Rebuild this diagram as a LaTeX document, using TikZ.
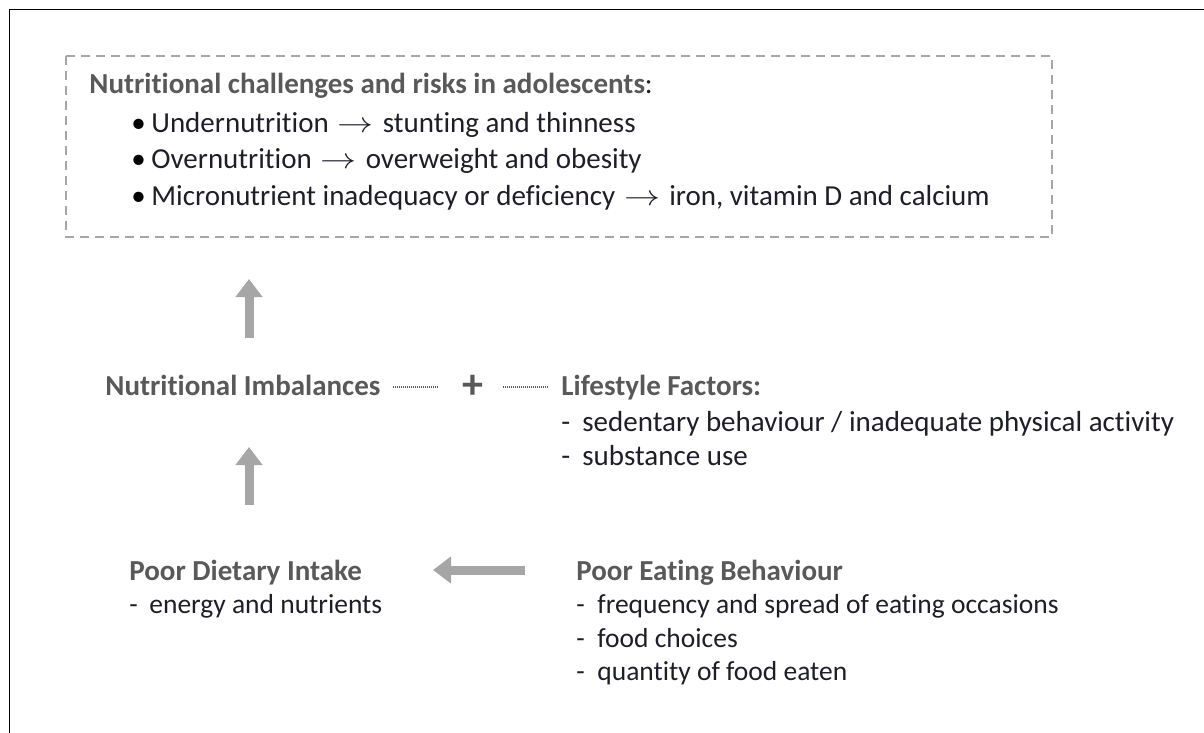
\documentclass[tikz,border=0pt]{standalone}
\usepackage{fontspec}
\setmainfont{Carlito}[Ligatures=NoCommon]
\usepackage{graphicx}
\usetikzlibrary{arrows.meta,calc}
\definecolor{headc}{HTML}{595959}
\definecolor{bodyc}{HTML}{1E1E28}
\definecolor{arrc}{HTML}{A6A6A6}
\definecolor{boxc}{HTML}{A6A6A6}
\newcommand{\ar}{\hspace{4.5pt}\scalebox{1.25}[1]{$\rightarrow$}\hspace{4.5pt}}
\tikzset{
  txt/.style={anchor=base west, inner sep=0pt, text=bodyc, font=\fontsize{14.5}{17}\selectfont},
  txs/.style={anchor=base west, inner sep=0pt, text=bodyc, font=\fontsize{13.75}{17}\selectfont},
  hd/.style={txt, text=headc, font=\fontsize{14.5}{17}\selectfont\bfseries},
  blockarrow/.style={draw=arrc, line width=4.5pt, -{Triangle[width=13pt,length=9pt]}},
  dotline/.style={draw=headc, line width=0.6pt, dash pattern=on 0.5pt off 0.5pt},
  dashbox/.style={draw=boxc, line width=1.2pt, dash pattern=on 4.5pt off 3pt},
}
\begin{document}
\begin{tikzpicture}[x=0.5pt,y=-0.5pt]
\useasboundingbox (0,0) rectangle (1204,733);
% frame
\draw[black, line width=0.6pt] (9.5,733) -- (9.5,9.5) -- (1204,9.5);
% dashed box
\draw[dashbox] (66,56) rectangle (1052,237);
\node[hd] (title) at (89,94) {Nutritional challenges and risks in adolescents{\mdseries\color{bodyc}:}};
\node[txt, text=black] (b1) at (131,133) {•};
\node[txt, text=black] (b2) at (131,169) {•};
\node[txt, text=black] (b3) at (131,205) {•};
\node[txt] (u1) at (151,133) {Undernutrition\ar stunting and thinness};
\node[txt] (u2) at (151,169) {Overnutrition\ar overweight and obesity};
\node[txt] (u3) at (151,205) {Micronutrient inadequacy or deficiency\ar iron, vitamin D and calcium};
% middle row
\node[hd] (ni) at (105,395) {Nutritional Imbalances};
\node[hd, anchor=center, font=\fontsize{21}{21}\selectfont\bfseries] (plus) at (473,387) {+};
\node[hd] (lf) at (561,395) {Lifestyle Factors:};
\node[txt] (ld1) at (561,431) {-};
\node[txt] (ld2) at (561,465) {-};
\node[txt] (l1) at (582,431) {sedentary behaviour / inadequate physical activity};
\node[txt] (l2) at (582,465) {substance use};
\coordinate (d1s) at (393,387);
\coordinate (d1e) at (439,387);
\coordinate (d2s) at (503,387);
\coordinate (d2e) at (549,387);
\draw[dotline] (d1s) -- (d1e);
\draw[dotline] (d2s) -- (d2e);
% bottom row
\node[hd] (pdi) at (129,580) {Poor Dietary Intake};
\node[txs] (pd1) at (129,613) {-};
\node[txs] (p1) at (149,613) {energy and nutrients};
\node[hd] (peb) at (576,580) {Poor Eating Behaviour};
\node[txs] (ed1) at (576,613) {-};
\node[txs] (ed2) at (576,647) {-};
\node[txs] (ed3) at (576,680) {-};
\node[txs] (e1) at (597,613) {frequency and spread of eating occasions};
\node[txs] (e2) at (597,647) {food choices};
\node[txs] (e3) at (597,680) {quantity of food eaten};
% block arrows
\coordinate (a1s) at (249,338);
\coordinate (a1e) at (249,279);
\coordinate (a2s) at (249,505);
\coordinate (a2e) at (249,447);
\coordinate (a3s) at (525,570);
\coordinate (a3e) at (433,570);
\draw[blockarrow] (a1s) -- (a1e);
\draw[blockarrow] (a2s) -- (a2e);
\draw[blockarrow] (a3s) -- (a3e);
\end{tikzpicture}
\end{document}
